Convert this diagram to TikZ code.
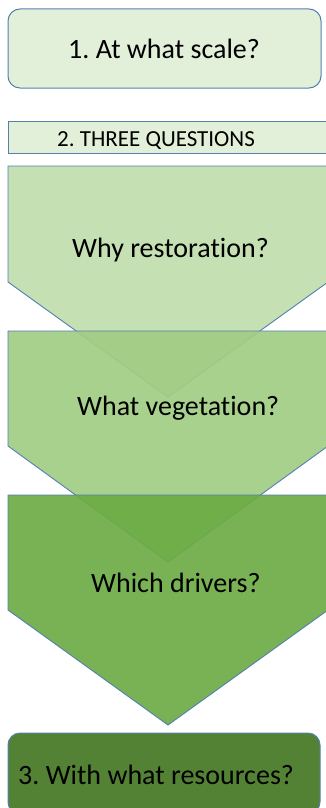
\documentclass[tikz,border=0pt]{standalone}
\usepackage{fontspec}
\setmainfont{Carlito}[Ligatures=NoCommon]
\usepackage{tikz}
\usetikzlibrary{positioning}
\frenchspacing

\definecolor{edgeblue}{RGB}{84,128,176}
\definecolor{paleGreen}{RGB}{226,240,217}
\definecolor{chevA}{RGB}{192,221,173}
\definecolor{chevB}{RGB}{161,205,132}
\definecolor{chevC}{RGB}{108,171,69}
\definecolor{darkGreen}{RGB}{84,130,53}

\begin{document}
\begin{tikzpicture}[
            x=1pt, y=-1pt,
            % Style hộp bo góc
            qbox/.style={
                draw=edgeblue,
                line width=1pt,
                rounded corners=12pt
            },
            % Style mũi chevron
            chev/.style={
                draw=edgeblue,
                line width=0.9pt,
                fill opacity=0.92,
                draw opacity=1
            },
            % Style chữ
            qtext/.style={
                font=\fontsize{28}{34}\selectfont,
                anchor=base west,
                inner sep=0pt
            }
        ]
            \clip (0,0) rectangle (326,808);

            % --- HỘP 1 ---
            \draw[qbox, fill=paleGreen] (8,9) rectangle (321,88);
            \node[qtext] (scale_txt) at (68,59) {1. At what scale?};

            % --- DẢI 2: THREE QUESTIONS ---
            \draw[draw=edgeblue, line width=1pt, fill=paleGreen] (8,121) rectangle (330,153);
            \node[qtext, font=\fontsize{23}{28}\selectfont] (three_txt) at (57,146) {2. THREE QUESTIONS};

            % --- CÁC CHEVRON ---
            \draw[chev, fill=chevA] (8,166) -- (328,166) -- (328,282) -- (168,397) -- (8,282) -- cycle;
            \node[qtext] (why_txt) at (72,257) {Why restoration?};

            \draw[chev, fill=chevB] (8,331) -- (328,331) -- (328,446) -- (168,562) -- (8,446) -- cycle;
            \node[qtext] (veg_txt) at (77,415) {What vegetation?};

            \draw[chev, fill=chevC] (8,495) -- (328,495) -- (328,610) -- (168,725) -- (8,610) -- cycle;
            \node[qtext] (drv_txt) at (91,592) {Which drivers?};

            % --- HỘP 3 ---
            \draw[qbox, fill=darkGreen] (8,733) rectangle (320,814);
            \node[qtext] (res_txt) at (18,784) {3. With what resources?};

        \end{tikzpicture}
\end{document}
